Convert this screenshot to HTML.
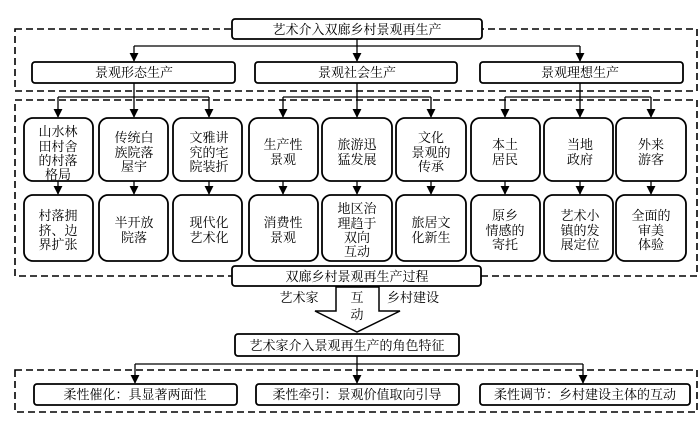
<!DOCTYPE html>
<html><head><meta charset="utf-8"><style>body{margin:0;background:#fff}svg{display:block}text{font-family:"Liberation Serif","Noto Serif CJK SC",serif;font-size:13px;fill:#000;text-anchor:middle}</style></head><body>
<svg width="700" height="423" viewBox="0 0 700 423" xmlns="http://www.w3.org/2000/svg">
<defs><marker id="a" viewBox="0 0 10 10" refX="9" refY="5" markerWidth="9" markerHeight="9" markerUnits="userSpaceOnUse" orient="auto"><path d="M0,0L10,5L0,10z" fill="#000"/></marker></defs>
<g fill="none" stroke="#000" stroke-width="1.6" stroke-dasharray="7,4">
<rect x="15" y="29" width="682" height="62"/>
<rect x="15" y="100" width="682" height="176"/>
<rect x="15" y="370" width="682" height="42"/>
</g>
<g stroke="#000" stroke-width="1.3" fill="none">
<path d="M357,39V46M134,46H580"/>
<path d="M134,83V97M58,97H209M357,83V97M283,97H431M580,83V97M505,97H651"/>
<path d="M357,356V364M135,364H583"/>
</g>
<g stroke="#000" stroke-width="1.3" fill="none" marker-end="url(#a)">
<line x1="134" y1="46" x2="134" y2="61"/><line x1="357" y1="46" x2="357" y2="61"/><line x1="580" y1="46" x2="580" y2="61"/>
<line x1="58" y1="97" x2="58" y2="117"/><line x1="134" y1="97" x2="134" y2="117"/><line x1="209" y1="97" x2="209" y2="117"/><line x1="283" y1="97" x2="283" y2="117"/><line x1="357" y1="97" x2="357" y2="117"/><line x1="431" y1="97" x2="431" y2="117"/><line x1="505" y1="97" x2="505" y2="117"/><line x1="580" y1="97" x2="580" y2="117"/><line x1="651" y1="97" x2="651" y2="117"/>
<line x1="58" y1="181" x2="58" y2="194"/><line x1="134" y1="181" x2="134" y2="194"/><line x1="209" y1="181" x2="209" y2="194"/><line x1="283" y1="181" x2="283" y2="194"/><line x1="357" y1="181" x2="357" y2="194"/><line x1="431" y1="181" x2="431" y2="194"/><line x1="505" y1="181" x2="505" y2="194"/><line x1="580" y1="181" x2="580" y2="194"/><line x1="651" y1="181" x2="651" y2="194"/>
<line x1="135" y1="364" x2="135" y2="383"/><line x1="357" y1="364" x2="357" y2="383"/><line x1="583" y1="364" x2="583" y2="383"/>
</g>
<g fill="#fff" stroke="#000" stroke-width="1.8">
<rect x="232" y="19" width="250" height="20" rx="3"/>
<rect x="32" y="62" width="203" height="21" rx="3"/>
<rect x="255" y="62" width="202" height="21" rx="3"/>
<rect x="480" y="62" width="203" height="21" rx="3"/>
<rect x="24" y="118" width="69" height="63" rx="9"/><rect x="99" y="118" width="69" height="63" rx="9"/><rect x="173" y="118" width="69" height="63" rx="9"/><rect x="249" y="118" width="69" height="63" rx="9"/><rect x="322" y="118" width="70" height="63" rx="9"/><rect x="396" y="118" width="70" height="63" rx="9"/><rect x="471" y="118" width="69" height="63" rx="9"/><rect x="544" y="118" width="69" height="63" rx="9"/><rect x="616" y="118" width="70" height="63" rx="9"/>
<rect x="24" y="195" width="69" height="66" rx="9"/><rect x="99" y="195" width="69" height="66" rx="9"/><rect x="173" y="195" width="69" height="66" rx="9"/><rect x="249" y="195" width="69" height="66" rx="9"/><rect x="322" y="195" width="70" height="66" rx="9"/><rect x="396" y="195" width="70" height="66" rx="9"/><rect x="471" y="195" width="69" height="66" rx="9"/><rect x="544" y="195" width="69" height="66" rx="9"/><rect x="616" y="195" width="70" height="66" rx="9"/>
<rect x="232" y="266" width="249" height="20" rx="3"/>
<path d="M336,287H379V311H400L357,332L315,311H336Z" stroke-width="1.5"/>
<rect x="235" y="334" width="224" height="22" rx="3"/>
<rect x="34" y="384" width="203" height="21" rx="3"/>
<rect x="256" y="384" width="203" height="21" rx="3"/>
<rect x="480" y="384" width="210" height="21" rx="3"/>
</g>
<text x="357" y="34">艺术介入双廊乡村景观再生产</text>
<text x="134" y="77">景观形态生产</text><text x="357" y="77">景观社会生产</text><text x="580" y="77">景观理想生产</text>
<g>
<text x="58" y="136">山水林</text><text x="58" y="151">田村舍</text><text x="58" y="165">的村落</text><text x="58" y="179">格局</text>
<text x="134" y="142">传统白</text><text x="134" y="157">族院落</text><text x="134" y="171">屋宇</text>
<text x="209" y="142">文雅讲</text><text x="209" y="157">究的宅</text><text x="209" y="171">院装折</text>
<text x="283" y="149">生产性</text><text x="283" y="164">景观</text>
<text x="357" y="149">旅游迅</text><text x="357" y="164">猛发展</text>
<text x="431" y="142">文化</text><text x="431" y="157">景观的</text><text x="431" y="171">传承</text>
<text x="505" y="149">本土</text><text x="505" y="164">居民</text>
<text x="580" y="149">当地</text><text x="580" y="164">政府</text>
<text x="651" y="149">外来</text><text x="651" y="164">游客</text>
<text x="58" y="220">村落拥</text><text x="58" y="235">挤、边</text><text x="58" y="249">界扩张</text>
<text x="134" y="227">半开放</text><text x="134" y="242">院落</text>
<text x="209" y="227">现代化</text><text x="209" y="242">艺术化</text>
<text x="283" y="227">消费性</text><text x="283" y="242">景观</text>
<text x="357" y="213">地区治</text><text x="357" y="228">理趋于</text><text x="357" y="242">双向</text><text x="357" y="256">互动</text>
<text x="431" y="227">旅居文</text><text x="431" y="242">化新生</text>
<text x="505" y="220">原乡</text><text x="505" y="235">情感的</text><text x="505" y="249">寄托</text>
<text x="580" y="220">艺术小</text><text x="580" y="235">镇的发</text><text x="580" y="249">展定位</text>
<text x="651" y="220">全面的</text><text x="651" y="235">审美</text><text x="651" y="249">体验</text>
</g>
<text x="357" y="281">双廊乡村景观再生产过程</text>
<text x="299" y="302">艺术家</text><text x="413" y="302">乡村建设</text>
<text x="357" y="302">互</text><text x="357" y="319">动</text>
<text x="347" y="350">艺术家介入景观再生产的角色特征</text>
<text x="135" y="399">柔性催化：具显著两面性</text>
<text x="357" y="399">柔性牵引：景观价值取向引导</text>
<text x="585" y="399">柔性调节：乡村建设主体的互动</text>
</svg>
</body></html>
